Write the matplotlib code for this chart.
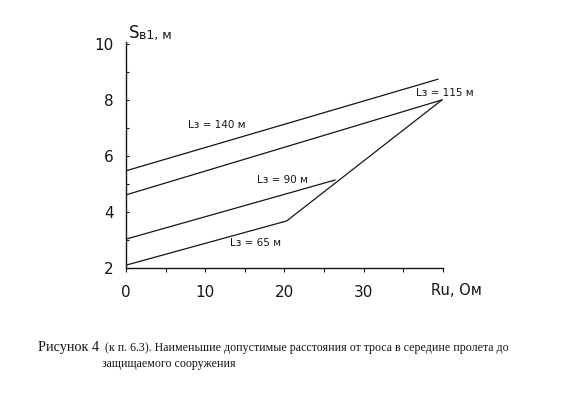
import matplotlib
matplotlib.use('Agg')
import matplotlib.pyplot as plt

# ------------------ Data ------------------
# Ru, Ohm  ->  S_v1, m   for each cable span length L_z
x_140 = [0, 39.4]
y_140 = [5.47, 8.74]

x_115 = [0, 39.9]
y_115 = [4.61, 8.0]

x_90 = [0, 26.4]
y_90 = [3.03, 5.14]

x_65 = [0, 20.3, 39.9]
y_65 = [2.1, 3.68, 8.0]

x_ticks = [0, 10, 20, 30]
y_ticks = [2, 4, 6, 8, 10]

ink = '#151515'

fig = plt.figure(figsize=(5.67, 3.97), dpi=100)
ax = fig.add_axes([0.2222, 0.325, 0.5586, 0.570])

for xs, ys in [(x_140, y_140), (x_115, y_115), (x_90, y_90), (x_65, y_65)]:
    ax.plot(xs, ys, color=ink, lw=0.9)

ax.set_xlim(0, 40)
ax.set_ylim(2, 10.08)
ax.spines['top'].set_visible(False)
ax.spines['right'].set_visible(False)
for s in ['left', 'bottom']:
    ax.spines[s].set_color(ink)
    ax.spines[s].set_linewidth(1.0)

ax.set_xticks(x_ticks)
ax.set_xticks(range(0, 41, 5), minor=True)
ax.set_yticks(y_ticks)
ax.set_yticks(range(2, 11), minor=True)
ax.tick_params(axis='x', which='both', direction='out', length=3, width=0.8,
               color=ink, pad=9, labelsize=11, labelcolor=ink)
ax.tick_params(axis='y', which='both', direction='in', length=2, width=0.8,
               color=ink, pad=9, labelsize=11, labelcolor=ink)

# curve labels
lab = dict(fontsize=7.5, color=ink, ha='center', va='center')
ax.text(11.5, 7.1, 'Lз = 140 м', **lab)
ax.text(40.3, 8.25, 'Lз = 115 м', clip_on=False, **lab)
ax.text(19.8, 5.14, 'Lз = 90 м', **lab)
ax.text(16.4, 2.9, 'Lз = 65 м', **lab)

# axis titles
fig.text(129 / 567, 1 - 33 / 397, 'S', fontsize=12, color=ink, va='center')
fig.text(139 / 567, 1 - 35 / 397, 'в1, м', fontsize=9, color=ink, va='center')
fig.text(456 / 567, 1 - 290.7 / 397, 'Ru, Oм', fontsize=10.5, color=ink,
         ha='center', va='center')

# caption
cap = dict(family='Liberation Serif', color=ink, va='center')
fig.text(37.7 / 567, 1 - 347.3 / 397, 'Рисунок 4', fontsize=10.3, **cap)
fig.text(105 / 567, 1 - 348 / 397,
         '(к п. 6.3). Наименьшие допустимые расстояния от троса в середине пролета до',
         fontsize=8.6, **cap)
fig.text(102.3 / 567, 1 - 364.3 / 397, 'защищаемого сооружения', fontsize=8.6, **cap)

fig.savefig('out.png', dpi=100)
